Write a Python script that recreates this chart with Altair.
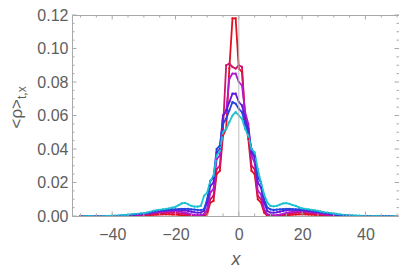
import altair as alt
import pandas as pd

X = list(range(-50, 51))

red = [0, 0, 0, 0, 0, 0, 0, 0, 0, 0,
       0, 0, 0, 0, 0, 0, 0.0001, 0.0001, 0.0002, 0.0003,
       0.0004, 0.0005, 0.0006, 0.0007, 0.0008, 0.0009, 0.0010, 0.0010, 0.0010, 0.0009,
       0.0008, 0.0007, 0.0005, 0.0004, 0.0002, 0.0001, 0, 0,
       0, 0, 0.001, 0.008, 0.009, 0.025, 0.027, 0.048, 0.052, 0.088, 0.118, 0.118,
       0.088, 0.086, 0.058, 0.046, 0.027, 0.025, 0.010, 0.008, 0.002, 0, 0,
       0, 0, 0.0001, 0.0002, 0.0004, 0.0006, 0.0008, 0.0009, 0.0010, 0.0010,
       0.0010, 0.0009, 0.0008, 0.0007, 0.0006, 0.0005, 0.0004, 0.0003, 0.0002, 0.0001,
       0.0001, 0, 0, 0, 0, 0, 0, 0, 0, 0,
       0, 0, 0, 0, 0, 0, 0, 0, 0, 0]

crimson = [0, 0, 0, 0, 0, 0, 0, 0, 0, 0,
           0, 0, 0, 0, 0, 0.0001, 0.0002, 0.0003, 0.0004, 0.0005,
           0.0007, 0.0009, 0.0011, 0.0013, 0.0015, 0.0017, 0.0018, 0.0019, 0.0020, 0.0020,
           0.0019, 0.0017, 0.0014, 0.0011, 0.0008, 0.0005, 0.0003, 0.0002,
           0.0003, 0.001, 0.003, 0.010, 0.012, 0.028, 0.030, 0.052, 0.090, 0.091, 0.089, 0.088,
           0.090, 0.089, 0.058, 0.050, 0.030, 0.028, 0.012, 0.010, 0.003, 0.001, 0.0003,
           0.0002, 0.0003, 0.0005, 0.0008, 0.0011, 0.0014, 0.0017, 0.0019, 0.0020, 0.0020,
           0.0019, 0.0018, 0.0016, 0.0014, 0.0012, 0.0010, 0.0008, 0.0006, 0.0004, 0.0003,
           0.0002, 0.0001, 0.0001, 0, 0, 0, 0, 0, 0, 0,
           0, 0, 0, 0, 0, 0, 0, 0, 0, 0]

purple = [0, 0, 0, 0, 0, 0, 0, 0, 0, 0,
          0, 0, 0, 0, 0.0001, 0.0002, 0.0003, 0.0004, 0.0006, 0.0008,
          0.0010, 0.0012, 0.0015, 0.0018, 0.0021, 0.0024, 0.0026, 0.0028, 0.0029, 0.0030,
          0.0029, 0.0027, 0.0024, 0.0020, 0.0015, 0.0010, 0.0006, 0.0005,
          0.0005, 0.001, 0.004, 0.014, 0.016, 0.034, 0.036, 0.060, 0.062, 0.082, 0.085, 0.085,
          0.080, 0.078, 0.062, 0.055, 0.036, 0.032, 0.015, 0.013, 0.004, 0.001, 0.0005,
          0.0004, 0.0005, 0.0008, 0.0013, 0.0018, 0.0022, 0.0026, 0.0028, 0.0029, 0.0029,
          0.0028, 0.0026, 0.0023, 0.0020, 0.0017, 0.0014, 0.0011, 0.0009, 0.0007, 0.0005,
          0.0004, 0.0003, 0.0002, 0.0001, 0.0001, 0, 0, 0, 0, 0,
          0, 0, 0, 0, 0, 0, 0, 0, 0, 0]

violet = [0, 0, 0, 0, 0, 0, 0, 0, 0, 0,
          0, 0, 0, 0.0001, 0.0002, 0.0003, 0.0005, 0.0007, 0.0009, 0.0011,
          0.0013, 0.0016, 0.0020, 0.0024, 0.0028, 0.0030, 0.0032, 0.0034, 0.0035, 0.0036,
          0.0036, 0.0036, 0.0035, 0.0034, 0.0030, 0.0026, 0.0022, 0.0020,
          0.002, 0.003, 0.008, 0.018, 0.020, 0.038, 0.040, 0.060, 0.063, 0.068, 0.073, 0.073,
          0.068, 0.066, 0.058, 0.052, 0.038, 0.035, 0.020, 0.017, 0.008, 0.003, 0.002,
          0.0020, 0.0022, 0.0026, 0.0030, 0.0034, 0.0036, 0.0036, 0.0036, 0.0035, 0.0034,
          0.0032, 0.0030, 0.0028, 0.0025, 0.0022, 0.0019, 0.0016, 0.0013, 0.0010, 0.0008,
          0.0006, 0.0004, 0.0003, 0.0002, 0.0001, 0.0001, 0, 0, 0, 0,
          0, 0, 0, 0, 0, 0, 0, 0, 0, 0]

blue = [0, 0, 0, 0, 0, 0, 0, 0, 0, 0,
        0, 0, 0.0001, 0.0002, 0.0003, 0.0005, 0.0007, 0.0009, 0.0011, 0.0013,
        0.0015, 0.0018, 0.0022, 0.0026, 0.0030, 0.0032, 0.0034, 0.0036, 0.0038, 0.0040,
        0.0040, 0.0041, 0.0042, 0.0043, 0.0042, 0.0040, 0.0038, 0.0036,
        0.0035, 0.004, 0.010, 0.021, 0.023, 0.040, 0.042, 0.055, 0.058, 0.063, 0.068, 0.067,
        0.064, 0.062, 0.055, 0.050, 0.040, 0.036, 0.023, 0.020, 0.010, 0.005, 0.004,
        0.0036, 0.0038, 0.0040, 0.0041, 0.0042, 0.0042, 0.0041, 0.0040, 0.0039, 0.0038,
        0.0036, 0.0034, 0.0032, 0.0030, 0.0027, 0.0024, 0.0020, 0.0017, 0.0014, 0.0011,
        0.0008, 0.0006, 0.0004, 0.0003, 0.0002, 0.0001, 0.0001, 0, 0, 0,
        0, 0, 0, 0, 0, 0, 0, 0, 0, 0]

cyan = [0, 0, 0, 0, 0, 0, 0, 0, 0.0001, 0.0001,
        0.0002, 0.0002, 0.0003, 0.0005, 0.0006, 0.0008, 0.0010, 0.0012, 0.0013, 0.0015,
        0.0017, 0.0020, 0.0025, 0.0030, 0.0033, 0.0036, 0.0040, 0.0043, 0.0045, 0.0050,
        0.0055, 0.0065, 0.0075, 0.0078, 0.0070, 0.0060, 0.0056, 0.0056,
        0.006, 0.012, 0.014, 0.021, 0.024, 0.036, 0.039, 0.050, 0.052, 0.056, 0.060, 0.062,
        0.060, 0.058, 0.052, 0.048, 0.040, 0.038, 0.028, 0.020, 0.013, 0.008, 0.006,
        0.0058, 0.0060, 0.0068, 0.0075, 0.0077, 0.0072, 0.0065, 0.0060, 0.0052, 0.0045,
        0.0042, 0.0040, 0.0036, 0.0033, 0.0030, 0.0026, 0.0022, 0.0020, 0.0017, 0.0015,
        0.0012, 0.0010, 0.0007, 0.0005, 0.0004, 0.0003, 0.0002, 0.0002, 0.0001, 0.0001,
        0, 0, 0, 0, 0, 0, 0, 0, 0, 0]

series_names = ["1", "2", "3", "4", "5", "6"]
series_values = [red, crimson, purple, violet, blue, cyan]
series_colors = ["#e2111f", "#d0146e", "#b01ad0", "#6418d8", "#2446dc", "#1ec2d2"]

x_major = [-40, -20, 0, 20, 40]
x_minor = [-50, -45, -35, -30, -25, -15, -10, -5, 5, 10, 15, 25, 30, 35, 45, 50]
y_major = [0.0, 0.02, 0.04, 0.06, 0.08, 0.10, 0.12]
y_minor = [0.005, 0.01, 0.015, 0.025, 0.03, 0.035, 0.045, 0.05, 0.055,
           0.065, 0.07, 0.075, 0.085, 0.09, 0.095, 0.105, 0.11, 0.115]

rows = []
for name, vals in zip(series_names, series_values):
    assert len(vals) == len(X), (name, len(vals))
    for xv, v in zip(X, vals):
        rows.append({"x": xv, "v": v, "s": name})
df = pd.DataFrame(rows)

W, H = 327, 201
FRAME = "#a9a9a9"
TXT = "#5e5e5e"
FONT = "Liberation Sans"

xs = alt.Scale(domain=[-52.7, 50.6], nice=False, zero=False)
ys = alt.Scale(domain=[0, 0.12], nice=False, zero=False)

x_axis = alt.Axis(values=x_major, ticks=False, domain=False, grid=False,
                  labelFontSize=16, labelColor=TXT, labelFont=FONT, labelPadding=10,
                  title="x", titleFontStyle="italic", titleFontWeight="normal",
                  titleFontSize=18, titleColor=TXT, titleFont=FONT, titlePadding=8)
y_axis = alt.Axis(values=y_major, format=".2f", ticks=False, domain=False, grid=False,
                  labelFontSize=16, labelColor=TXT, labelFont=FONT, labelPadding=4,
                  title="")


def X_enc():
    return alt.X("x:Q", scale=xs, axis=x_axis, title="x")


def Y_enc():
    return alt.Y("v:Q", scale=ys, axis=y_axis, title="")


lines = alt.Chart(df).mark_line(
    strokeWidth=1.8, clip=True,
    point=alt.OverlayMarkDef(size=5, filled=True, clip=True)
).encode(
    x=X_enc(), y=Y_enc(),
    color=alt.Color("s:N", scale=alt.Scale(domain=series_names, range=series_colors), legend=None),
)

zero_line = alt.Chart(pd.DataFrame({"x": [0]})).mark_rule(color="#bdbdbd", strokeWidth=1).encode(
    x=X_enc(), y=alt.value(0), y2=alt.value(H))


def xticks(vals, length):
    d = pd.DataFrame({"x": vals})
    bottom = alt.Chart(d).mark_rule(color=FRAME, strokeWidth=1).encode(
        x=X_enc(), y=alt.value(H), y2=alt.value(H - length))
    top = alt.Chart(d).mark_rule(color=FRAME, strokeWidth=1).encode(
        x=X_enc(), y=alt.value(0), y2=alt.value(length))
    return [bottom, top]


def yticks(vals, length):
    d = pd.DataFrame({"v": vals})
    left = alt.Chart(d).mark_rule(color=FRAME, strokeWidth=1).encode(
        y=Y_enc(), x=alt.value(0), x2=alt.value(length))
    right = alt.Chart(d).mark_rule(color=FRAME, strokeWidth=1).encode(
        y=Y_enc(), x=alt.value(W - length), x2=alt.value(W))
    return [left, right]


tick_layers = xticks(x_major, 4.5) + xticks(x_minor, 2.5) + yticks(y_major, 4.5) + yticks(y_minor, 2.5)

ytitle_main = alt.Chart(pd.DataFrame({"t": ["<ρ>"]})).mark_text(
    angle=270, align="right", baseline="middle", fontSize=17, color=TXT, font=FONT
).encode(text="t:N", x=alt.value(-55), y=alt.value(84))

ytitle_sub = alt.Chart(pd.DataFrame({"t": ["t,x"]})).mark_text(
    angle=270, align="left", baseline="middle", fontSize=12, color=TXT, font=FONT
).encode(text="t:N", x=alt.value(-50), y=alt.value(84))

chart = alt.layer(lines, zero_line, *tick_layers, ytitle_main, ytitle_sub).properties(
    width=W, height=H,
    padding={"left": 64, "top": 7, "right": 0, "bottom": 53},
    autosize=alt.AutoSizeParams(type="none"),
    background="white",
).configure_view(stroke=FRAME, strokeWidth=1)

chart.save("out.html", embed_options={"renderer": "svg", "actions": False})
